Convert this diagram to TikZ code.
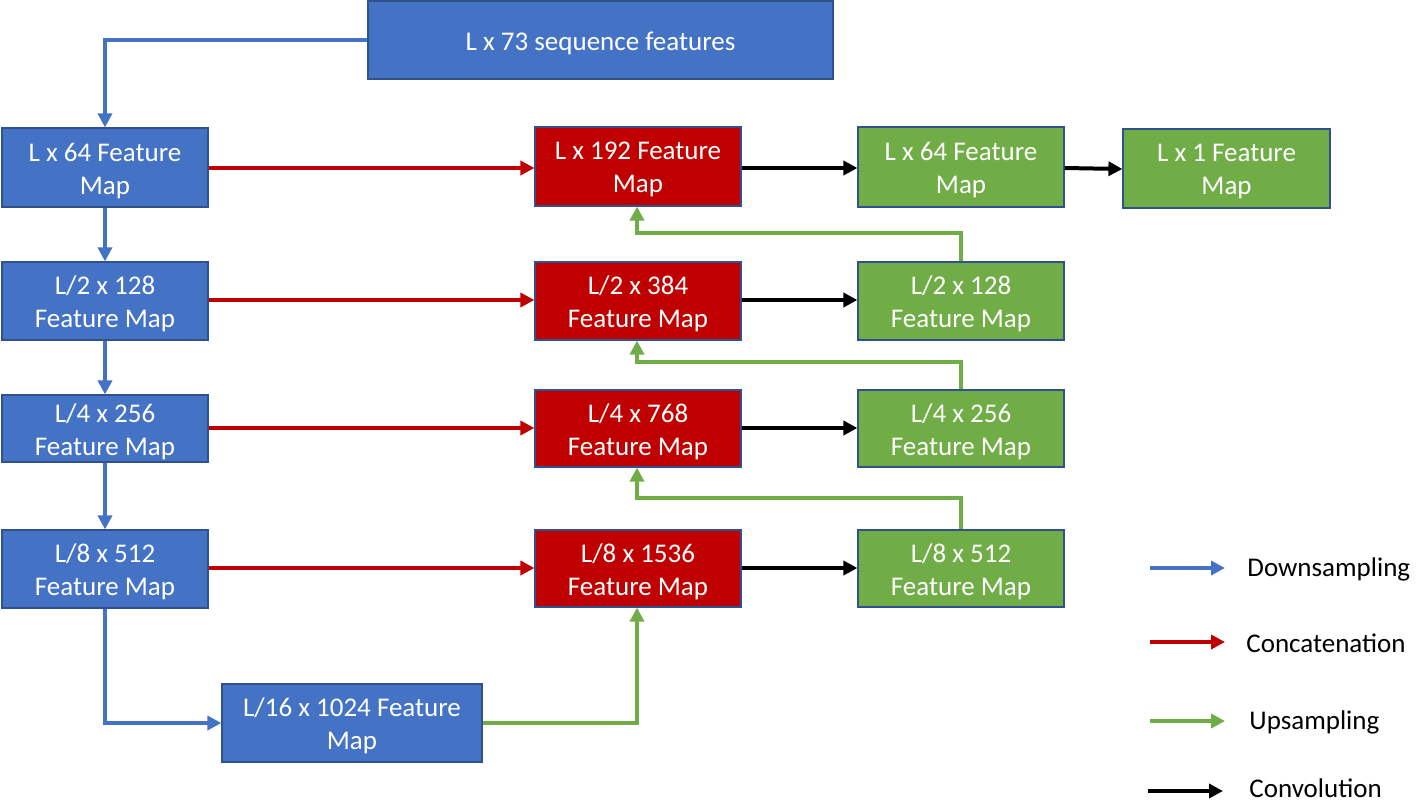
\documentclass[tikz,border=0pt]{standalone}
\usepackage{fontspec}
\setmainfont{Carlito}
\usetikzlibrary{arrows.meta}
\definecolor{cblue}{HTML}{4472C4}
\definecolor{cred}{HTML}{C00000}
\definecolor{cgreen}{HTML}{70AD47}
\definecolor{cedge}{HTML}{2F528F}
\begin{document}
\begin{tikzpicture}[x=0.5pt,y=-0.5pt,
  box/.style={draw=cedge,line width=0.6pt,inner sep=0pt},
  boxtext/.style={text=white,align=center,inner sep=0pt,yshift=-1.6pt,
    font=\fontsize{13.5}{16.5}\selectfont},
  bbox/.style={box,fill=cblue},
  rbox/.style={box,fill=cred},
  gbox/.style={box,fill=cgreen},
  conn/.style={line width=2pt,-{Triangle[length=7pt,width=7pt]}},
  down/.style={conn,draw=cblue},
  cat/.style={conn,draw=cred},
  up/.style={conn,draw=cgreen},
  conv/.style={conn,draw=black},
  leg/.style={anchor=west,inner sep=0pt,font=\fontsize{13.5}{16.5}\selectfont}]
\useasboundingbox (0,0) rectangle (1416,803);
% helper: box by corners
\newcommand{\bx}[7]{\node[#1,minimum width=#4*0.5pt-#2*0.5pt,minimum height=#5*0.5pt-#3*0.5pt,
  label={[boxtext]center:#7}] (#6) at ({(#2+#4)/2},{(#3+#5)/2}) {};}
\bx{bbox}{368}{1}{833}{79}{top}{L x 73 sequence features}
\bx{bbox}{2}{128}{208}{207}{l1}{L x 64 Feature\\Map}
\bx{bbox}{2}{262}{208}{340}{l2}{L/2 x 128\\Feature Map}
\bx{bbox}{2}{395}{208}{462}{l3}{L/4 x 256\\Feature Map}
\bx{bbox}{2}{530}{208}{608}{l4}{L/8 x 512\\Feature Map}
\bx{bbox}{222}{684}{482}{762}{l5}{L/16 x 1024 Feature\\Map}
\bx{rbox}{535}{127}{741}{206}{r1}{L x 192 Feature\\Map}
\bx{rbox}{535}{262}{741}{340}{r2}{L/2 x 384\\Feature Map}
\bx{rbox}{535}{390}{741}{467}{r3}{L/4 x 768\\Feature Map}
\bx{rbox}{535}{530}{741}{607}{r4}{L/8 x 1536\\Feature Map}
\bx{gbox}{858}{127}{1064}{207}{g1}{L x 64 Feature\\Map}
\bx{gbox}{858}{262}{1064}{340}{g2}{L/2 x 128\\Feature Map}
\bx{gbox}{858}{390}{1064}{467}{g3}{L/4 x 256\\Feature Map}
\bx{gbox}{858}{530}{1064}{607}{g4}{L/8 x 512\\Feature Map}
\bx{gbox}{1123}{129}{1330}{208}{out}{L x 1 Feature\\Map}
% downsampling
\draw[down] (top.west) -| (l1.north);
\draw[down] (l1) -- (l2);
\draw[down] (l2) -- (l3);
\draw[down] (l3) -- (l4);
\draw[down] (l4.south) |- (l5.west);
% concatenation
\draw[cat] (l1.east |- 0,168) -- (r1.west |- 0,168);
\draw[cat] (l2.east |- 0,300) -- (r2.west |- 0,300);
\draw[cat] (l3.east |- 0,428) -- (r3.west |- 0,428);
\draw[cat] (l4.east |- 0,568) -- (r4.west |- 0,568);
% convolution
\draw[conv] (r1.east |- 0,168) -- (g1.west |- 0,168);
\draw[conv] (r2.east |- 0,300) -- (g2.west |- 0,300);
\draw[conv] (r3.east |- 0,428) -- (g3.west |- 0,428);
\draw[conv] (r4.east |- 0,568) -- (g4.west |- 0,568);
\draw[conv] (g1.east |- 0,168) -- (out.west |- 0,169);
% upsampling
\draw[up] (l5.east) -| (r4.south -| 637,0);
\draw[up] (g4.north) |- (637,498) -- (r3.south -| 637,0);
\draw[up] (g3.north) |- (637,362) -- (r2.south -| 637,0);
\draw[up] (g2.north) |- (637,233) -- (r1.south -| 637,0);
% legend
\coordinate (d0) at (1150,568); \coordinate (d1) at (1225,568);
\coordinate (c0) at (1150,642); \coordinate (c1) at (1225,642);
\coordinate (u0) at (1150,721); \coordinate (u1) at (1225,721);
\coordinate (v0) at (1148,791); \coordinate (v1) at (1223,791);
\draw[down] (d0) -- (d1);
\draw[cat] (c0) -- (c1);
\draw[up] (u0) -- (u1);
\draw[conv] (v0) -- (v1);
\node[leg] (t1) at (1247,569) {Downsampling};
\node[leg] (t2) at (1246,643) {Concatenation};
\node[leg] (t3) at (1249,722) {Upsampling};
\node[leg] (t4) at (1249,788) {Convolution};
\end{tikzpicture}
\end{document}
